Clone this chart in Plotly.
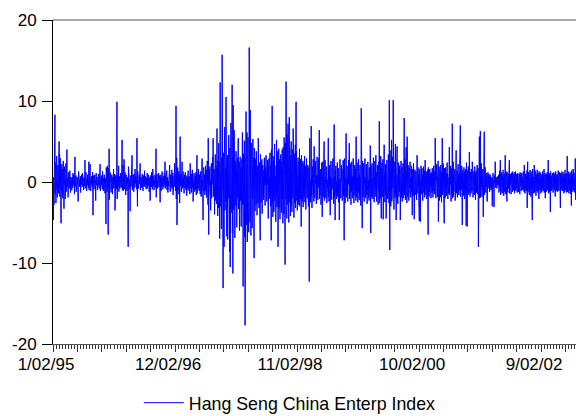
import pandas as pd
import plotly.graph_objects as go

# Daily returns (%) of the Hang Seng China Enterprises Index, one list per calendar year
r1995 = [
    -3.5, -1.2, -4.7, 0.6, -2.8, -0.4, 1.8, -0.9, 8.3, -1.5, 0.3, 2.4, -2.6, -0.5, 1.1, 3.2, -0.8, 0.2, -1.9, 0.7,
    2.1, 0.4, -1.4, -0.3, 1.7, 5.0, -0.6, 3.4, -1.8, 0.2, 2.9, -2.7, 0.1, -5.1, 0.8, -1.1, 2.2, 0.4, 1.6, -2.0,
    0.5, -0.3, 2.6, -0.9, 0.2, -3.3, 0.7, 1.9, -0.4, 0.3, -2.1, 0.1, -0.5, 2.3, -1.2, 0.4, -0.2, 4.0, -0.6, 0.3,
    0.5, -0.2, -1.9, 0.4, 1.2, -0.1, 0.3, -0.8, 0.2, 1.4, -0.5, 0.1, -1.3, 0.6, 0.3, -0.4, 0.2, -1.0, 0.6, -0.3,
    0.4, -0.7, 1.1, 0.1, -0.3, 0.9, -0.4, 0.2, -1.5, 0.1, 3.1, -0.6, 0.3, -0.2, 0.8, -1.2, 0.2, 0.5, -0.3, 0.6,
    -0.2, 0.3, -0.9, -2.4, 0.5, 1.3, -0.1, -0.4, 1.0, -0.6, 0.2, -0.2, 0.7, -1.3, 0.4, 0.1, -0.3, 0.9, -0.2, 0.3,
    -0.6, 1.1, -0.2, 0.1, 0.4, -1.0, 0.3, -0.1, 0.6, -0.5, 0.2, 2.7, -0.8, 0.1, -0.3, 1.2, -0.2, 0.4, -1.1, 0.3,
    0.1, -0.4, 0.9, -0.2, 0.3, -0.7, 0.2, 2.5, -1.0, 0.1, -0.3, 0.6, 2.2, -0.5, 0.2, -1.1, 0.4, -0.1, 0.7, -0.3,
    0.2, -0.6, 1.2, -0.2, -4.1, 0.8, -0.1, 0.3, -0.9, 0.5, -0.3, 0.9, -0.1, 0.2, -0.6, -2.3, 0.3, 1.1, -0.4, 0.1,
    -0.2, 0.6, -1.0, 0.3, 0.1, -0.5, 1.0, -0.2, 0.4, -0.8, 0.2, -0.1, 0.7, 2.2, -1.1, 0.3, -0.3, 0.5, -0.1, 0.8,
    -0.4, 0.2, -0.9, 1.3, -0.3, 0.1, 0.5, -1.1, 0.4, -0.1, 0.9, -0.6, 0.2, -1.4, 0.5, 0.1, -0.5, -5.2, 1.8, -0.3,
    0.9, -1.2, 0.3, 2.0, -0.7, 0.2, -6.5, 1.7, -0.4, 0.5, 4.1, -2.2, 0.2, -0.9, 1.2, -0.3, 0.1, 0.8, -1.3, 0.4,
    -0.2, 0.9, -0.5, 0.3, -1.5, 0.6, 0.1, -0.4, 1.6, -0.8, 0.2, 0.5, -0.3, 1.0, -3.5, 0.4, -0.1, 0.8, -0.6, 0.2,
]
r1996 = [
    0.4, -0.9, 9.9, -2.1, 0.8, -0.2, 1.5, -0.6, 0.1, 2.0, -1.2, 0.3, -0.1, 0.7, -0.8, 0.4, -0.1, 1.1, -0.5, 0.2,
    -0.7, 0.3, 1.6, 5.2, -1.0, 0.5, -0.2, 2.1, -1.1, 0.1, 0.8, 2.8, -0.4, 0.2, -0.9, 1.2, -0.1, 0.5, -1.6, 0.3,
    0.9, -0.3, 0.2, -1.1, 0.6, -0.1, 0.4, -0.7, -8.0, 1.9, -0.4, 1.1, -0.8, 0.3, 0.1, -0.5, -3.6, 0.8, -0.2, 0.4,
    -0.6, 1.3, -0.2, 0.1, 3.3, -1.0, 0.5, -0.4, 0.9, -0.1, 0.3, -1.2, 1.0, -0.1, 0.2, -0.7, 1.6, -0.3, 0.4, -0.2,
    0.7, -0.5, 0.2, -0.9, 5.4, -0.3, -3.0, 1.3, -0.1, 0.4, -0.8, 0.5, 0.1, -0.4, 0.9, -0.2, 0.3, 2.3, -1.0, 0.1,
    -0.3, 0.6, -0.7, 0.2, 0.5, -0.1, 1.0, -0.5, 0.1, -1.1, 0.4, 0.8, -0.2, 0.3, -0.6, 1.4, -0.4, 0.1, -0.1, 0.7,
    -0.5, 0.2, -0.9, 0.5, 0.1, -0.3, 1.1, -0.8, 0.2, 0.4, -0.5, 0.9, -0.1, 0.3, -1.2, 0.5, -0.1, 0.6, -2.3, 0.3,
    0.8, -0.4, 0.1, -0.6, 1.2, -0.2, 0.5, -0.9, 0.2, 1.6, -0.5, 0.1, -0.3, 0.7, -1.0, 0.4, 0.2, -0.5, 0.9, -0.2,
    0.3, -0.7, 4.1, -1.9, 0.6, -0.1, 1.0, -0.4, 0.1, -0.8, 0.6, -0.2, 0.4, 1.1, -0.6, 0.1, -0.3, 0.8, -0.5, -2.5,
    0.6, -0.2, 0.9, -1.1, 0.2, 0.5, -0.5, 1.3, -0.1, 0.3, -0.9, 0.2, 0.7, -0.4, 0.1, -0.6, 1.1, -0.3, 0.5, 2.5,
    -0.8, 0.4, -0.2, 0.8, -0.5, 0.2, 1.4, -1.0, 0.3, -0.1, 0.6, -1.3, 0.5, 0.1, -0.5, 1.0, -0.3, 0.2, 2.1, -0.7,
    0.1, -1.2, 0.9, -0.2, 0.6, -0.6, 0.3, 1.5, -0.9, 0.4, -0.2, 1.1, -1.6, 0.5, 0.2, -0.8, 0.7, -0.1, 2.3, -0.6,
    1.0, -0.3, 2.8, -1.1, 9.4, -2.1, 1.2, 3.0, -5.3, 0.9, -0.5, 1.8, -1.0, 0.6, -0.2, 1.3, -1.5, 0.3, 0.9, -2.6,
    0.7, 5.6,
]
r1997 = [
    -0.5, 1.0, -0.2, 0.4, -1.2, 0.1, 0.7, 2.5, -0.8, 0.3, -0.1, 1.3, -0.6, 0.1, 0.5, -1.4, 0.9, -0.3, 0.2, -0.7,
    1.2, -0.1, 0.4, -1.0, 0.6, 0.2, -1.7, 0.8, -0.4, 0.5, -0.9, 0.2, 1.4, -0.5, 0.1, -1.1, 0.7, -0.2, 0.3, -1.5,
    2.3, -0.3, 0.6, -0.8, 0.2, 1.0, -1.3, 0.5, -0.1, 1.5, -0.7, 0.2, -2.4, 0.9, 0.3, -0.5, 1.1, -1.2, 0.4, -0.1,
    0.8, -1.0, 0.5, -0.2, 1.2, -1.6, 0.1, 0.7, 3.3, -1.4, 0.3, -0.5, 1.0, -0.8, 1.6, -0.2, 0.4, -1.1, 0.9, -0.4,
    0.2, -1.5, 1.3, -0.3, 0.6, -1.8, 0.4, 1.1, -0.6, 2.9, -0.9, 0.2, -2.6, -4.7, 1.5, -0.4, 1.8, -1.2, 0.5, 0.9,
    -1.6, 0.7, -0.3, 2.0, -1.1, 0.3, 1.5, -1.9, 0.5, -0.7, 2.6, -0.2, 1.0, -2.8, 5.4, 0.4, -6.5, 1.7, -0.8, 1.2,
    -0.4, 1.9, -1.5, 0.2, -3.5, 1.4, -0.6, 2.3, -2.0, 0.5, 1.1, -1.3, 3.1, -0.3, 5.4, -1.8, 0.8, -1.1, 1.6, -0.5,
    -4.0, 2.2, -1.0, 3.4, -2.3, 0.6, -0.2, 1.8, -2.7, 1.2, 6.6, -1.6, 2.6, -4.2, 0.9, 2.1, -3.2, 4.8, -1.4, 2.5,
    -5.0, -7.0, -2.1, 12.3, -3.0, 6.2, -2.4, 1.2, -5.8, 3.0, -0.9, 15.7, -6.1, 2.2, 7.9, -13.1, 3.6, -2.5, 1.5, -8.0,
    2.8, -1.2, 6.8, -3.5, 1.7, -2.4, 0.8, 10.5, -3.1, 4.0, -6.7, 1.9, -0.9, 3.3, -7.1, 1.2, 0.4, -2.0, 5.8, -1.5,
    -8.0, 2.5, -8.6, 4.2, -10.5, 2.8, -1.6, 7.3, -3.8, 1.1, -2.6, 2.3, 12.0, -6.3, 3.2, -11.3, 9.5, -2.2, 0.9, -3.4,
    6.4, -1.3, 1.9, -6.9, 2.6, -0.5, 1.6, -2.9, 3.8, -1.8, 0.6, -5.6, 2.4, -0.9, 3.0, -2.0, 1.1, 5.4, -3.3, 0.5,
    -1.4, 2.5, -6.0, 1.2, -0.4, 3.1, -2.3, 0.8, 1.8, -5.5, 0.3, -1.7, 2.8, -1.1, 6.1, -2.8, 1.4, -12.9, 3.5, -2.2,
    2.4,
]
r1998 = [
    -2.4, 5.1, -6.8, 3.0, -17.7, 7.2, -4.1, 2.6, 8.7, -5.3, 1.8, -2.9, 6.1, -7.4, 3.5, -0.8, 5.5, -3.3, 1.0, -6.2,
    3.9, 16.6, -3.7, 1.4, -5.0, 8.9, -1.6, 3.1, -6.6, 2.2, -0.5, 4.8, -3.4, -5.7, 1.9, -2.1, 5.3, -1.0, 3.0, -5.6,
    2.5, -9.4, 4.2, -1.8, 0.7, -3.6, 2.9, -0.6, 1.7, -2.8, 3.8, -1.3, 0.5, -4.1, 2.0, -0.9, 1.2, -2.6, 5.4, -1.5,
    0.8, -3.2, 2.4, -0.6, 1.9, -2.0, -7.2, 3.4, -1.1, 0.3, -2.5, 1.6, -0.4, 2.8, -3.9, 1.0, -0.7, 2.1, -1.6, 0.4,
    -2.2, 1.5, -0.4, 3.0, -1.9, 0.2, -2.9, 1.8, -0.3, 0.9, 3.3, -1.4, 0.6, -2.4, 1.1, -0.3, 2.7, -1.2, 0.2, -4.5,
    1.6, -0.8, 2.9, -2.1, 0.5, -1.7, 3.6, -0.9, 1.3, -3.0, 2.1, -7.2, 4.0, -1.5, 2.4, 9.4, -2.6, 1.0, -4.3, 3.2,
    -1.8, 2.6, -3.7, 1.4, -0.6, 4.7, -2.3, 4.6, -1.0, 0.7, -4.9, 2.0, -1.4, 5.2, -3.1, 1.5, -2.7, 0.9, 3.8, -8.0,
    2.3, -1.1, 4.1, -3.3, 1.2, -0.5, 2.8, -4.6, 1.9, -1.7, 3.4, -2.2, 0.6, -3.8, 2.5, -1.0, 4.0, -2.0, 1.4, -5.1,
    4.3, -2.4, 1.7, -4.0, 5.5, -1.6, 2.9, -3.4, -10.2, 4.8, -2.1, 1.3, 12.4, -3.9, 2.6, -4.5, 5.9, -1.2, 3.1, -2.8,
    7.2, -3.6, 2.0, -5.0, 1.5, 8.0, -2.5, 4.2, -1.8, 3.3, -4.2, 2.4, -0.9, 5.0, -2.9, 1.1, -3.7, 2.7, -1.3, 4.0,
    -2.0, 6.6, -1.4, 2.9, -4.4, 1.6, -0.8, 3.5, -2.6, 1.0, 4.6, -3.2, 2.1, 9.9, -1.7, 3.8, -2.3, 0.9, -3.5, 2.2,
    -1.2, 3.0, -2.8, 1.7, -0.6, 2.5, -1.9, 4.1, -3.0, 1.3, -0.5, 2.8, -2.1, 1.0, -5.5, 3.3, -1.6, 0.8, -2.4, 1.9,
    -0.7, 2.6, -3.1, 1.4, -1.0, 2.3, -1.8, 0.5, 3.2, -2.5, 1.1, -0.9, 2.0, -3.4, 1.6, -0.3, 2.9, -1.5, 0.7, -2.0,
    1.2,
]
r1999 = [
    2.1, -1.6, 0.3, -3.0, 1.8, 0.4, -12.3, 2.6, 5.4, -1.2, 0.2, -2.5, -0.4, 0.9, 6.9, -1.8, 0.5, -3.2, 0.6, 0.1,
    1.9, -0.3, 2.8, -1.5, 0.2, -2.4, 4.4, -0.9, 0.3, -2.0, -0.5, 1.1, 2.6, -0.2, 0.4, -2.7, 0.8, 0.2, 3.1, -0.4,
    1.5, -2.2, -0.4, 0.6, 2.9, -0.7, 0.2, 6.4, -2.1, 0.9, -1.7, 0.3, -0.2, 1.6, -2.8, 0.3, -1.0, 2.4, 0.6, -4.3,
    1.7, -0.5, 2.5, -1.9, 0.3, -0.2, 1.4, 5.0, -2.3, 0.1, -1.6, 2.7, 0.4, -0.8, -2.0, 0.6, -0.1, 1.9, -2.6, 0.4,
    -1.3, 0.2, -0.7, 1.5, 5.4, -1.8, 0.3, -2.4, 1.6, -0.3, 2.1, 0.5, -4.1, 0.7, -1.5, 2.6, 0.4, -0.2, -2.2, 0.5,
    -0.9, 1.8, 0.2, 2.9, -0.6, 0.3, -2.7, 0.3, 7.1, -1.9, 0.6, -0.8, -4.7, 1.4, -0.2, 2.0, -1.6, 0.1, -2.1, 1.2,
    -0.5, 2.4, -1.8, 0.6, 0.1, 1.7, -2.5, -0.3, 0.4, -4.7, 1.9, -0.2, 2.8, -0.7, 0.3, -2.0, 0.4, -1.5, 2.1, 0.2,
    1.6, -2.3, 0.7, -0.2, 0.4, 2.7, -1.7, 2.5, -0.6, -7.2, 2.9, -1.4, 0.3, -2.6, 0.5, -0.1, 2.2, 6.0, -1.9, 0.2,
    -1.6, 2.0, -0.5, 0.3, -2.4, 0.6, -0.2, 2.7, -0.3, 1.5, 4.8, -2.1, 0.4, -1.4, 2.3, 0.2, -0.6, -2.8, 0.4, -1.2,
    2.5, -0.6, 0.3, -2.0, 0.7, -0.4, 2.9, -0.4, 1.2, -2.6, 0.3, -1.0, 2.1, -1.7, 0.2, 0.5, 1.6, -2.3, 5.6, -1.1,
    0.6, -1.9, 2.4, -0.2, 0.3, -2.5, 0.5, -1.3, 2.8, -0.6, 0.1, -2.2, 0.9, -1.6, 2.1, -0.4, 0.6, -2.9, 0.3, 9.1,
    -2.0, 1.5, -0.7, -5.7, 2.6, -1.2, 0.2, -1.8, 2.3, -0.5, 0.4, -2.4, 0.6, -0.1, 2.9, -0.9, 0.3, -2.0, 0.5, -1.6,
    2.2, -0.8, 0.4, -2.7, 0.4, -0.3, 2.5, -0.3, 1.1, -1.9, 0.2, -2.3, 1.8, -0.6, 0.3, -1.0, 4.5, -1.7, -6.3, 2.0,
    -0.9,
]
r2000 = [
    1.4, -1.9, 2.3, 0.6, 0.5, -2.1, 1.8, -0.4, 3.0, -1.2, 0.2, -2.5, -0.3, 1.5, 2.6, -1.8, 0.2, -1.0, 3.3, -0.5,
    1.2, -2.4, 0.8, -0.5, 2.1, 0.7, 0.3, -2.8, 0.4, -1.1, 2.5, -0.3, 7.5, -2.6, 1.9, -1.4, -0.6, -2.0, 3.2, -0.8,
    -4.5, 1.7, -0.5, 2.4, -1.8, 0.9, -0.2, 2.8, -4.6, 1.5, -2.3, 0.3, 4.6, -1.0, 1.2, -2.5, 0.7, -1.6, 2.2, -0.4,
    -4.5, 1.8, -0.9, 2.7, -1.4, 0.6, -2.1, 1.3, 0.5, 3.4, -1.7, 2.0, -2.6, 10.1, -1.3, -8.4, 3.9, -2.2, 1.5, -3.0,
    2.6, -1.1, 5.2, -2.4, 0.8, -1.9, 3.1, -0.7, 1.6, 10.1, -2.8, 1.2, -3.4, 2.5, -0.9, 1.8, -2.0, 0.5, 4.7, -1.5,
    0.9, -4.7, 1.6, -0.6, 2.2, 4.4, -1.4, 0.7, -2.7, 1.0, -0.5, 2.4, -1.8, 0.3, -1.2, 2.0, -0.8, 1.4, -4.7, 0.6,
    -1.0, 2.6, -1.9, 0.4, -0.7, 1.8, -2.4, 0.9, -1.3, 2.3, 0.6, 1.1, -2.0, 0.5, 7.9, -1.6, 1.3, -0.9, 2.8, -2.2,
    0.7, -1.5, 4.3, -0.4, 1.2, -2.6, 5.6, -1.1, 0.6, -1.8, 2.1, -0.5, 1.4, -2.3, 0.2, -1.0, 1.7, -0.7, 2.5, -1.4,
    0.4, -1.9, 1.1, -0.6, 2.0, -1.2, 0.5, -4.1, 1.6, -0.3, 0.9, -1.7, 2.3, -0.8, 1.2, -4.6, 0.6, -0.4, 1.5, -1.3,
    0.8, -1.6, 1.3, -0.5, 1.9, -2.2, 0.4, 3.3, -1.0, 0.7, -1.4, 1.8, -0.6, 1.0, -2.5, 0.5, -4.8, 1.6, -1.8, 0.3,
    -4.9, 1.4, -0.7, 2.0, -1.5, 0.6, -1.1, 1.7, -0.4, 0.9, -2.3, 1.2, -0.6, 1.9, -1.3, 0.5, -0.8, 1.4, -1.9, 0.7,
    2.7, -1.0, 0.4, -1.6, 1.3, -0.5, 1.0, -2.1, 0.6, -0.9, 1.5, -1.4, -6.5, 1.8, -0.7, 1.1, -1.8, 0.5, -1.2, 1.6,
    -0.6, 1.0, -1.7, 0.8, -2.0, 1.2, -0.4, 0.7, -1.3, 1.7, -0.8, 1.4, -1.9, 0.5, -1.1, 2.0, -0.5, 1.3, -1.5, 0.9,
]
r2001 = [
    -1.2, 5.4, -0.8, 1.6, -2.0, 0.5, 0.2, 2.2, -0.3, 1.0, -1.8, 0.7, -0.5, 2.6, -4.9, 0.4, -1.0, 1.9, -2.3, 0.8,
    -0.6, 1.4, -1.9, 0.3, 2.1, -1.1, 0.6, -2.5, 1.2, -0.4, 5.4, -1.6, 0.9, -0.7, 2.3, -1.3, 0.5, -1.0, -5.1, 1.7,
    -0.9, 1.5, -2.0, 0.4, 1.8, -0.6, 1.1, -1.7, 0.7, -1.2, 2.4, -0.5, 1.0, -2.1, 0.6, -0.8, 1.6, -1.4, 0.3, 4.3,
    -1.6, 0.8, -1.0, 2.0, -0.4, 1.3, -2.4, 0.5, -0.9, 1.7, -1.5, 7.2, -2.0, 1.1, -0.6, 2.5, -1.8, 0.9, -1.2, 0.4,
    1.6, -0.7, 1.2, -2.3, 0.6, -1.0, 1.9, 3.9, -1.4, 0.5, -0.8, 1.4, -1.9, 0.7, -0.4, 2.2, -1.3, 0.9, -1.6, 0.3,
    -1.0, 1.7, -0.5, 1.2, 7.0, -1.8, 0.8, -1.4, 0.4, -0.9, 2.0, -1.2, -5.3, 1.5, -0.6, 1.0, -1.7, 0.5, -1.1, 1.8,
    -0.7, 1.3, -2.1, 0.6, -0.4, 1.6, -1.5, 0.8, -5.4, 2.4, -0.5, 1.1, -5.5, 1.4, -0.8, 0.5, -1.6, 1.9, -0.3, 1.0,
    -1.3, 3.7, -0.9, 0.7, -1.8, 1.2, -0.5, 0.9, -1.4, 1.6, -0.6, 0.4, -1.1, 2.5, -0.8, 1.0, -1.9, 0.6, -0.4, 1.3,
    -1.0, 0.8, -1.6, 1.9, -0.5, 1.1, -2.2, 0.6, -0.9, 1.4, -1.3, 0.5, -0.7, 2.1, -1.5, 0.9, -0.6, 1.7, -8.0, 1.2,
    -1.7, 0.9, 5.6, -2.0, 1.3, -0.8, 6.3, -1.9, 0.7, -1.2, 2.3, -0.6, 1.0, -1.8, 0.5, -0.9, 1.6, -1.1, -4.3, 0.8,
    -0.5, 1.4, 6.2, -1.6, 0.6, -1.0, 1.8, -0.7, 0.4, -1.3, 1.1, -0.5, 0.8, -0.9, -2.4, 0.6, -0.3, 1.2, -0.8, 0.3,
    -0.6, 1.0, -0.4, 0.7, -1.2, 0.5, -0.2, 0.9, -0.7, 0.3, -1.0, 0.6, -0.5, 0.2, -0.8, -3.0, 0.4, -0.3, 1.1, -0.6,
    0.2, -0.9, -3.1, -0.4, 0.8, -0.1, 0.3, 2.5, -0.7, 0.1, -0.5, 0.6, -0.2, 0.4, -0.8, 0.1, -0.3, 0.7, -0.1, 0.2,
    -0.4,
]
r2002 = [
    0.9, -1.3, 0.6, -0.8, 1.4, -0.5, 1.0, 2.7, -1.6, 0.7, -1.1, 0.4, 1.2, -0.9, 0.5, -1.4, 0.8, -0.3, 1.5, -1.0,
    0.6, -1.7, 1.1, -0.4, 0.9, -1.2, 0.3, 3.3, -1.5, 0.8, -0.6, 1.3, -1.0, 0.5, -2.4, 1.2, -0.7, 0.4, -1.3, 1.0,
    -0.8, 1.4, -0.5, 0.9, 2.7, -1.4, 0.6, -1.1, 1.0, -0.3, 0.7, -1.5, 0.4, 1.1, -0.9, 0.5, 1.3, -1.2, 0.8, -0.6,
    1.0, -1.0, 0.4, -0.7, 1.2, -1.4, 0.6, 0.9, -0.5, 1.3, -1.1, 0.3, -0.8, 1.0, -0.4, 0.7, -1.3, 0.5, 1.1, -0.9,
    0.4, -1.2, 0.8, -0.3, 1.0, -0.9, 0.6, -1.5, 1.2, -0.5, 0.3, 0.9, -1.1, 0.7, -0.4, 1.1, -0.8, 0.5, -1.0, 0.6,
    -0.6, 1.3, -0.9, 0.4, -1.2, 2.1, -0.7, 0.8, -1.4, 0.5, 1.0, -0.8, 0.3, -1.1, 0.9, -0.5, 1.4, -3.2, 0.7, 2.5,
    -1.3, 0.6, -0.9, 1.2, -0.4, 0.8, -1.6, 1.0, -0.6, 1.5, -1.0, 0.4, -1.8, 1.3, -0.7, 0.9, -1.2, 0.5, -4.7, 1.6,
    -0.8, 1.1, -1.4, 0.6, -0.5, 1.2, 2.1, -1.3, 0.7, -0.9, 1.4, -0.6, 0.9, -1.7, 1.0, -0.4, 0.8, -1.1, 1.5, -0.7,
    0.5, -1.3, 1.1, -0.6, 0.9, -2.1, 1.3, -0.5, 0.7, -1.0, 1.2, -0.8, 0.4, -1.4, 1.0, -0.3, 0.8, -1.2, 0.6, -0.9,
    1.3, -0.7, 0.5, -1.1, 0.9, -0.4, 1.6, -1.3, 0.6, -0.8, 1.1, -2.0, 0.7, -0.5, 1.0, -1.2, 0.4, 0.9, -0.6, 1.2,
    -1.0, 0.6, -0.9, 2.7, -1.4, 0.8, -0.5, 1.1, -1.2, 0.5, 0.9, -0.7, -3.7, 1.3, -0.6, 1.0, -1.1, 0.4, 0.8, -0.9,
    1.1, -0.5, 0.7, -1.3, 0.9, -0.6, 1.2, -1.0, 0.4, -0.8, 1.0, -1.4, -1.8, 0.6, 1.3, -0.7, 0.5, -1.1, 0.8, -0.4,
    1.0, -1.2, 0.6, -0.9, 1.4, -0.5, 0.8, -1.1, 0.3, 1.2, -0.8, 0.5, -1.3, -3.2, 1.1, -0.6, 0.9, -1.0, 0.4, 1.3,
    -0.7,
]
r2003 = [
    -1.1, 0.7, -0.5, 1.2, -0.9, 0.4, -1.4, 1.0, -0.6, 0.8, -1.2, 1.5, -0.4, 0.9, -1.0, 0.5, 1.1, -1.3, 0.6, -0.8,
    3.2, -1.2, 0.7, -0.9, 1.3, -0.5, 0.8, -1.4, 1.0, -0.6, 0.4, -1.1, 1.2, -0.7, 0.9, -1.5, 0.6, -2.9, 1.4, -0.8,
    1.0, -0.5, 0.7, -1.2, 1.6, -0.9, 0.4, -1.0, 1.1, -0.6, 0.8, -1.3, 0.5, 2.9, -1.0, -2.2, 1.2,
]

series_name = "Hang Seng China Enterp Index"
label_every = 500      # observations between dated tick labels
tick_every = 100       # observations between medium ticks

returns = r1995 + r1996 + r1997 + r1998 + r1999 + r2000 + r2001 + r2002 + r2003
dates = pd.bdate_range("1995-01-02", periods=len(returns))
obs = list(range(len(returns)))


def fmt(d):
    return f"{d.month}/{d.day:02d}/{d.year % 100:02d}"


tickvals = list(range(0, len(returns), tick_every))
ticktext = [fmt(dates[v]) if v % label_every == 0 else "" for v in tickvals]
y_ticks = [-20, -10, 0, 10, 20]

fig = go.Figure(
    go.Scatter(
        x=obs,
        y=returns,
        mode="lines",
        name=series_name,
        line=dict(color="#0000FF", width=1),
        customdata=[fmt(d) for d in dates],
        hovertemplate="%{customdata}: %{y:.1f}<extra></extra>",
    )
)

font = dict(family="Liberation Sans, Arial, sans-serif", size=17, color="#000000")

fig.update_layout(
    width=576,
    height=416,
    margin=dict(l=53, r=0, t=20, b=72, autoexpand=False),
    paper_bgcolor="white",
    plot_bgcolor="white",
    font=font,
    showlegend=True,
    legend=dict(
        orientation="h",
        xref="container",
        yref="container",
        x=0.241,
        xanchor="left",
        y=0.031,
        yanchor="middle",
        font=dict(family=font["family"], size=17.8, color="#000000"),
        bgcolor="rgba(0,0,0,0)",
        itemwidth=40,
    ),
    xaxis=dict(
        range=[0, len(returns) - 1],
        tickmode="array",
        tickvals=tickvals,
        ticktext=ticktext,
        ticks="outside",
        ticklen=7,
        tickwidth=1,
        tickcolor="#333333",
        ticklabelshift=-7,
        ticklabelstandoff=-2,
        showline=True,
        linecolor="#555555",
        linewidth=1,
        showgrid=False,
        zeroline=False,
        minor=dict(dtick=12.5, tick0=0, ticks="outside", ticklen=4, tickcolor="#333333", tickwidth=1),
    ),
    yaxis=dict(
        range=[-20, 20],
        tickmode="array",
        tickvals=y_ticks,
        ticktext=[str(v) for v in y_ticks],
        ticks="outside",
        ticklen=10,
        tickwidth=1,
        tickcolor="#000000",
        ticklabelstandoff=2,
        showline=True,
        linecolor="#000000",
        linewidth=1,
        showgrid=False,
        zeroline=False,
    ),
    shapes=[
        dict(type="line", xref="paper", yref="paper", x0=0, x1=1, y0=1, y1=1,
             line=dict(color="#8a8a8a", width=1.5)),
    ],
)

fig.write_html("out.html")
